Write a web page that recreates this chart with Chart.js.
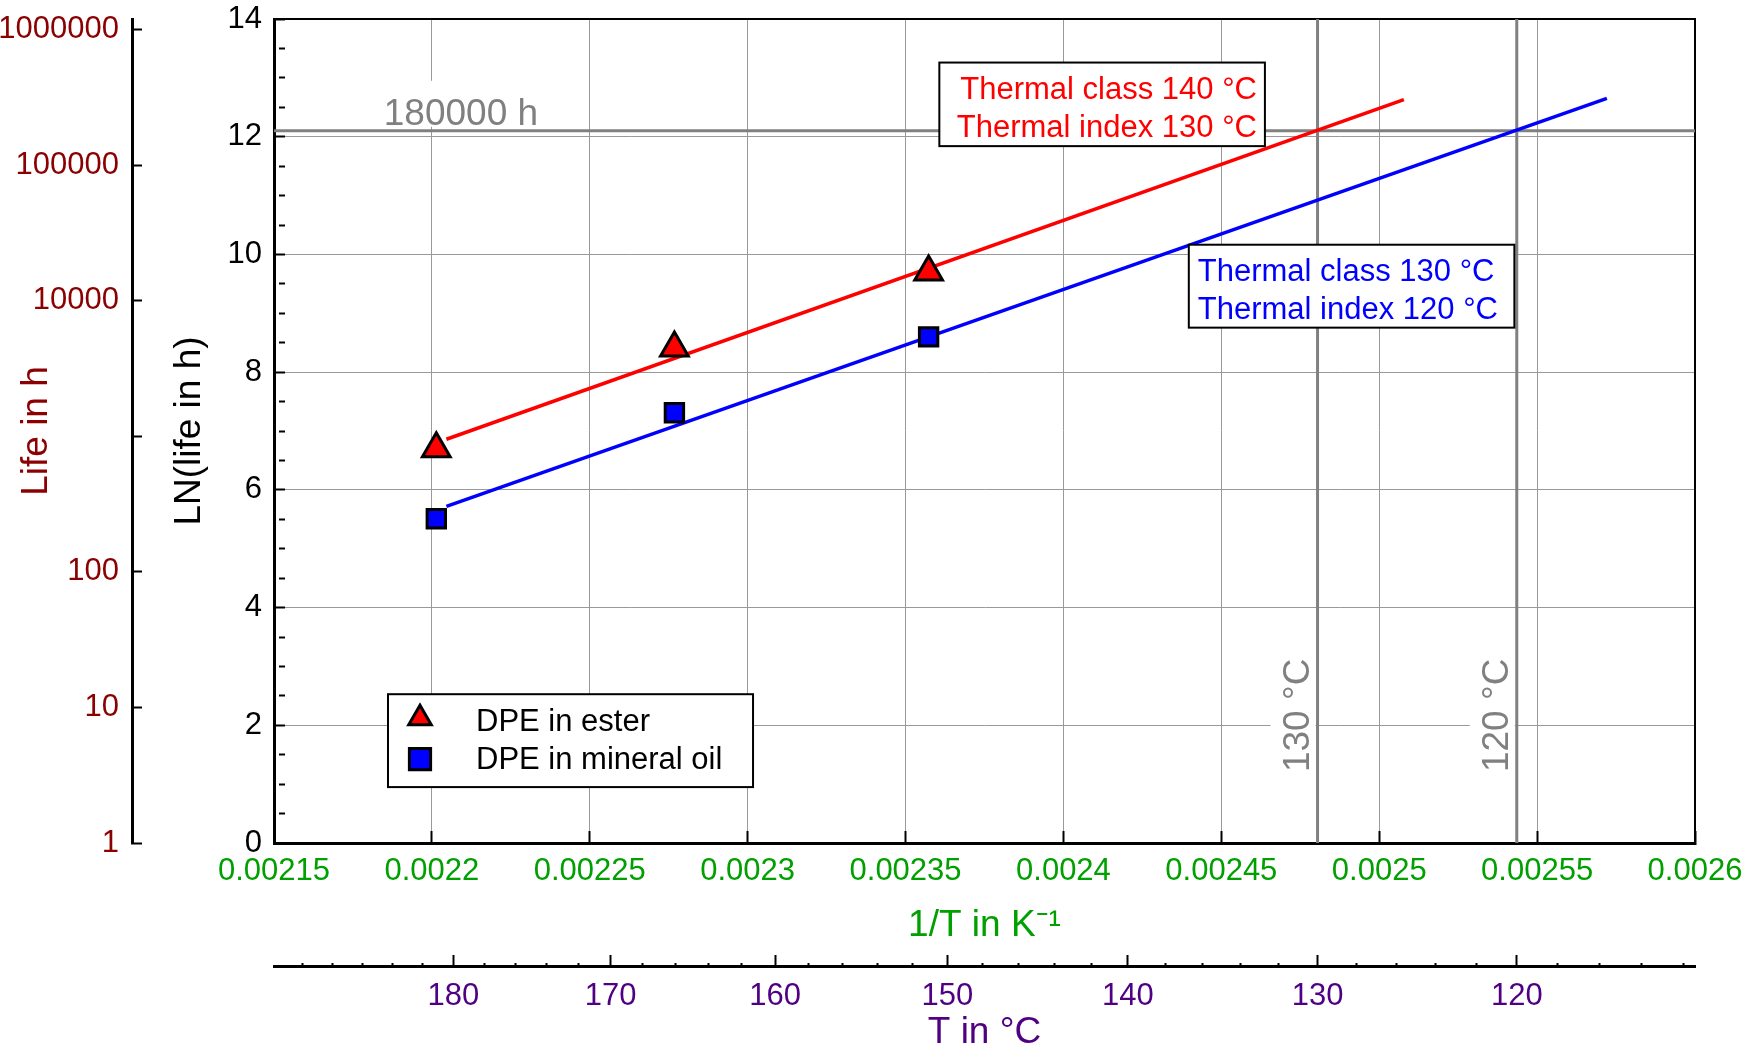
<!DOCTYPE html>
<html>
<head>
<meta charset="utf-8">
<title>Thermal endurance of DPE</title>
<script src="https://cdn.jsdelivr.net/npm/chart.js@4.4.1/dist/chart.umd.min.js"></script>
<style>
  html, body { margin: 0; padding: 0; background: #fff; overflow: hidden; }
  #wrap { width: 1753px; height: 1051px; }
</style>
</head>
<body>
<div id="wrap"><canvas id="chart"></canvas></div>
<script>
// Aging points: x = 1/T in K^-1, y = LN(life in h)
const agingX = [0.0022014, 0.0022768, 0.0023573];
const esterLn = [6.70, 8.41, 9.70];
const oilLn = [5.51, 7.31, 8.60];

// Regression lines (start / end)
const esterFitX = [0.0022046, 0.0025078];
const esterFitLn = [6.86, 12.63];
const oilFitX = [0.0022046, 0.0025721];
const oilFitLn = [5.72, 12.65];

// Limits
const lifeLimit = 180000;       // h
const indexTemps = [130, 120];  // °C

// Axis ticks / labels
const xTicks = [0.00215, 0.0022, 0.00225, 0.0023, 0.00235, 0.0024, 0.00245, 0.0025, 0.00255, 0.0026];
const lifeTicks = [1, 10, 100, 1000, 10000, 100000, 1000000];
const lifeLabels = ['1', '10', '100', '', '10000', '100000', '1000000'];
const tempLabels = [180, 170, 160, 150, 140, 130, 120];

const X_MIN = 0.00215, X_MAX = 0.0026, LN_MAX = 14;
const FONT = '"Liberation Sans", Arial, sans-serif';
const GREEN = '#00a000', DARKRED = '#8b0000', PURPLE = '#500082', GRAY = '#808080';

const toInvK = t => 1 / (t + 273.15);
const pts = (xs, ys) => xs.map((x, i) => ({ x: x, y: ys[i] }));
const lnLimit = Math.log(lifeLimit);

// temperature axis: minor tick every 2 °C
const tempMinor = [];
for (let t = 190; t >= 112; t -= 2) tempMinor.push(t);

// text boxes, positions in data units
const boxes = [
  { x0: 0.0023607, y0: 13.26, x1: 0.0024638, y1: 11.84, color: '#ff0000', align: 'right',
    lines: ['Thermal class 140 °C', 'Thermal index 130 °C'] },
  { x0: 0.0024397, y0: 10.165, x1: 0.0025428, y1: 8.756, color: '#0000ff', align: 'left',
    lines: ['Thermal class 130 °C', 'Thermal index 120 °C'] }
];
const legendBox = { x0: 0.0021861, y0: 2.528, x1: 0.0023017, y1: 0.95 };

// fix axis sizes so the plot area lands where it should
function fixedSize(size) {
  return function (scale) {
    if (scale.isHorizontal()) scale.height = size; else scale.width = size;
    scale.paddingLeft = scale.paddingRight = scale.paddingTop = scale.paddingBottom = 0;
  };
}

const notes = {
  id: 'notes',
  beforeDatasetsDraw(chart) {
    const { ctx, scales: { x, y } } = chart;
    ctx.save();
    ctx.font = '37px ' + FONT;
    ctx.textAlign = 'center';
    ctx.textBaseline = 'middle';

    // 180000 h label
    const lx = x.getPixelForValue(0.0022092);
    const ly = y.getPixelForValue(lnLimit);
    ctx.fillStyle = '#fff';
    ctx.fillRect(lx - 80, ly - 50, 160, 46);
    ctx.fillStyle = GRAY;
    ctx.fillText(lifeLimit + ' h', lx, ly - 16);

    // temperature labels next to the vertical lines
    indexTemps.forEach(t => {
      const px = x.getPixelForValue(toInvK(t)) - 19;
      const py = y.getPixelForValue(2.17);
      ctx.save();
      ctx.translate(px, py);
      ctx.rotate(-Math.PI / 2);
      ctx.fillStyle = '#fff';
      ctx.fillRect(-64, -28, 128, 45);
      ctx.fillStyle = GRAY;
      ctx.fillText(t + ' °C', 0, 0);
      ctx.restore();
    });
    ctx.restore();
  },
  afterDatasetsDraw(chart) {
    const { ctx, scales: { x, y } } = chart;
    ctx.save();
    ctx.font = '31px ' + FONT;
    ctx.textBaseline = 'middle';
    ctx.lineWidth = 2;
    ctx.strokeStyle = '#000';

    boxes.forEach(b => {
      const l = x.getPixelForValue(b.x0), r = x.getPixelForValue(b.x1);
      const t = y.getPixelForValue(b.y0), bt = y.getPixelForValue(b.y1);
      ctx.fillStyle = '#fff';
      ctx.fillRect(l, t, r - l, bt - t);
      ctx.strokeRect(l, t, r - l, bt - t);
      ctx.fillStyle = b.color;
      ctx.textAlign = b.align;
      const tx = b.align === 'right' ? r - 8 : l + 9;
      ctx.fillText(b.lines[0], tx, t + 28);
      ctx.fillText(b.lines[1], tx, t + 66);
    });

    // legend
    const l = x.getPixelForValue(legendBox.x0), r = x.getPixelForValue(legendBox.x1);
    const t = y.getPixelForValue(legendBox.y0), bt = y.getPixelForValue(legendBox.y1);
    ctx.fillStyle = '#fff';
    ctx.fillRect(l, t, r - l, bt - t);
    ctx.strokeRect(l, t, r - l, bt - t);
    const rows = [t + 26, t + 65];
    const legendRadius = [13, 15];
    [0, 1].forEach(i => {
      const ds = chart.data.datasets[i];
      ctx.fillStyle = ds.pointBackgroundColor;
      ctx.strokeStyle = '#000';
      ctx.lineWidth = 3;
      Chart.helpers.drawPoint(ctx, { pointStyle: ds.pointStyle, radius: legendRadius[i], rotation: 0, borderWidth: 3 }, l + 32, rows[i] - (i === 0 ? 2 : 0));
      ctx.fillStyle = '#000';
      ctx.textAlign = 'left';
      ctx.fillText(ds.label, l + 88, rows[i] + (i === 0 ? 2 : 1));
    });
    ctx.restore();
  }
};

Chart.defaults.font.family = FONT;
Chart.defaults.color = '#000';

const lineStyle = (color, width) => ({
  showLine: true, borderColor: color, borderWidth: width, pointRadius: 0, fill: false
});

new Chart(document.getElementById('chart'), {
  type: 'scatter',
  data: {
    datasets: [
      {
        label: 'DPE in ester', data: pts(agingX, esterLn),
        pointStyle: 'triangle', pointRadius: 16,
        pointBackgroundColor: '#ff0000', pointBorderColor: '#000', pointBorderWidth: 3
      },
      {
        label: 'DPE in mineral oil', data: pts(agingX, oilLn),
        pointStyle: 'rect', pointRadius: 13,
        pointBackgroundColor: '#0000ff', pointBorderColor: '#000', pointBorderWidth: 3
      },
      Object.assign({ label: 'fit ester', data: pts(esterFitX, esterFitLn) }, lineStyle('#ff0000', 3.5)),
      Object.assign({ label: 'fit mineral oil', data: pts(oilFitX, oilFitLn) }, lineStyle('#0000ff', 3.5)),
      Object.assign({ label: lifeLimit + ' h', data: [{ x: X_MIN, y: lnLimit }, { x: X_MAX, y: lnLimit }] }, lineStyle(GRAY, 3)),
      ...indexTemps.map(t => Object.assign({
        label: t + ' °C', data: [{ x: toInvK(t), y: 0 }, { x: toInvK(t), y: LN_MAX }]
      }, lineStyle(GRAY, 3)))
    ]
  },
  options: {
    responsive: true,
    maintainAspectRatio: false,
    animation: false,
    events: [],
    layout: { padding: { left: 0, top: 18, right: 58, bottom: 0 } },
    plugins: { legend: { display: false }, tooltip: { enabled: false } },
    scales: {
      x: {
        type: 'linear', position: 'bottom', min: X_MIN, max: X_MAX, weight: 0,
        afterBuildTicks: s => { s.ticks = xTicks.map(v => ({ value: v })); },
        afterFit: fixedSize(123),
        grid: { color: '#999', lineWidth: 1, tickLength: -12, tickColor: '#000', tickWidth: 2 },
        border: { color: '#000', width: 3 },
        ticks: {
          color: GREEN, font: { size: 31 }, padding: 22, autoSkip: false, maxRotation: 0,
          callback: v => String(v)
        },
        title: {
          display: true, text: '1/T in K⁻¹', color: GREEN,
          font: { size: 37 }, padding: { top: 0, bottom: 18 }
        }
      },
      t: {
        axis: 'x', type: 'linear', position: 'bottom', min: X_MIN, max: X_MAX, weight: 1,
        afterBuildTicks: s => { s.ticks = tempMinor.map(t => ({ value: toInvK(t) })); },
        afterFit: fixedSize(85),
        grid: {
          drawOnChartArea: false, tickLength: -11, tickColor: '#000', tickWidth: 2,
          tickBorderDash: c => (tempLabels.includes(Math.round(1 / c.tick.value - 273.15)) ? [] : [5, 50])
        },
        border: { color: '#000', width: 3 },
        ticks: {
          color: PURPLE, font: { size: 31 }, padding: 23, autoSkip: false, maxRotation: 0,
          callback: v => {
            const t = Math.round(1 / v - 273.15);
            return tempLabels.includes(t) ? String(t) : '';
          }
        },
        title: {
          display: true, text: 'T in °C', color: PURPLE,
          font: { size: 37, lineHeight: 1 }, padding: { top: 0, bottom: 0 }
        }
      },
      y: {
        type: 'linear', position: 'left', min: 0, max: LN_MAX, weight: 0,
        afterFit: fixedSize(142),
        grid: {
          color: c => (c.tick.value % 2 === 0 ? '#999' : 'rgba(0,0,0,0)'),
          lineWidth: 1, tickLength: -11, tickColor: '#000', tickWidth: 2,
          tickBorderDash: c => (c.tick.value % 2 === 0 ? [] : [6, 50])
        },
        border: { color: '#000', width: 3 },
        ticks: {
          stepSize: 0.5, color: '#000', font: { size: 31 }, padding: 23, autoSkip: false,
          callback: v => (v % 2 === 0 ? String(v) : '')
        },
        title: {
          display: true, text: 'LN(life in h)', color: '#000',
          font: { size: 37 }, padding: { top: 36, bottom: 0 }
        }
      },
      life: {
        axis: 'y', type: 'logarithmic', position: 'left', min: 1, max: Math.exp(LN_MAX), weight: 1,
        afterBuildTicks: s => { s.ticks = lifeTicks.map(v => ({ value: v })); },
        afterFit: fixedSize(132),
        grid: { drawOnChartArea: false, tickLength: -10, tickColor: '#000', tickWidth: 2 },
        border: { color: '#000', width: 3 },
        ticks: {
          color: DARKRED, font: { size: 31 }, padding: 23, autoSkip: false,
          callback: v => lifeLabels[lifeTicks.indexOf(v)] ?? ''
        },
        title: {
          display: true, text: 'Life in h', color: DARKRED,
          font: { size: 37 }, padding: { top: 15, bottom: 0 }
        }
      },
      xTop: {
        axis: 'x', type: 'linear', position: 'top', min: X_MIN, max: X_MAX,
        afterFit: fixedSize(0),
        grid: { drawOnChartArea: false, drawTicks: false },
        border: { color: '#000', width: 2 },
        ticks: { display: false }
      },
      yRight: {
        axis: 'y', type: 'linear', position: 'right', min: 0, max: LN_MAX,
        afterFit: fixedSize(0),
        grid: { drawOnChartArea: false, drawTicks: false },
        border: { color: '#000', width: 2 },
        ticks: { display: false }
      }
    }
  },
  plugins: [notes]
});
</script>
</body>
</html>
